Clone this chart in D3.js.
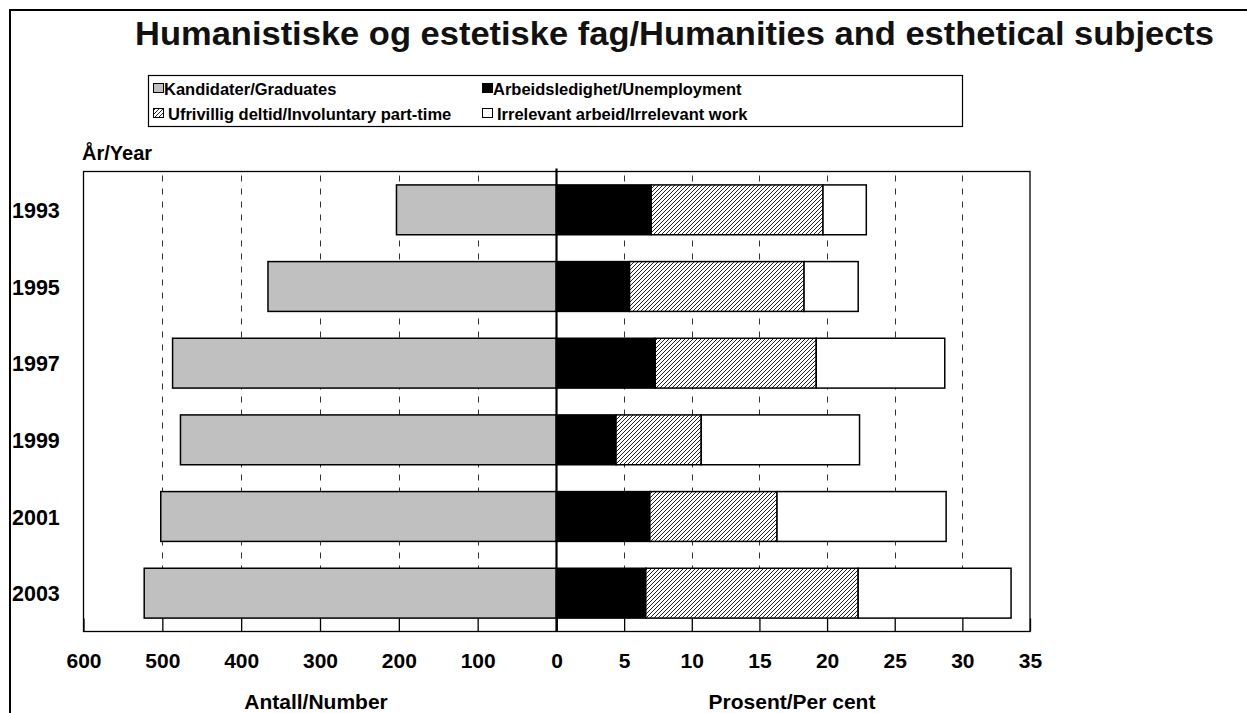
<!DOCTYPE html>
<html>
<head>
<meta charset="utf-8">
<script src="https://cdn.jsdelivr.net/npm/d3@7"></script>
<style>
html,body{margin:0;padding:0;background:#fff;}
svg{display:block;font-family:Arial,"Liberation Sans",sans-serif;}
</style>
</head>
<body>
<svg id="chart" width="1247" height="713"></svg>
<script>
const years = ['1993', '1995', '1997', '1999', '2001', '2003'];
const graduates = [203, 366, 487, 477, 502, 523];
const unemployment = [7.0, 5.4, 7.3, 4.4, 6.9, 6.6];
const partTime = [12.7, 12.9, 11.9, 6.3, 9.4, 15.7];
const irrelevant = [3.2, 4.0, 9.5, 11.7, 12.5, 11.3];
const leftTicks = [600, 500, 400, 300, 200, 100, 0];
const rightTicks = [0, 5, 10, 15, 20, 25, 30, 35];
const legendLabels = ['Kandidater/Graduates', 'Arbeidsledighet/Unemployment',
  'Ufrivillig deltid/Involuntary part-time', 'Irrelevant arbeid/Irrelevant work'];
const titleText = 'Humanistiske og estetiske fag/Humanities and esthetical subjects';

const svg = d3.select('#chart');
const pTop = 171.5, pBottom = 631.5, pLeft = 83.5, pMid = 556.5, pRight = 1030;

// hatch pattern
const defs = svg.append('defs');
const pat = defs.append('pattern').attr('id', 'hatch').attr('patternUnits', 'userSpaceOnUse')
  .attr('width', 4).attr('height', 4);
pat.append('rect').attr('width', 4).attr('height', 4).attr('fill', '#fff');
pat.append('path').attr('d', 'M-1,1 l2,-2 M0,4 l4,-4 M3,5 l2,-2')
  .attr('stroke', '#222').attr('stroke-width', 1);

// outer frame
svg.append('path').attr('d', 'M10,713 L10,10 L1247,10').attr('fill', 'none')
  .attr('stroke', '#000').attr('stroke-width', 2);

// title
svg.append('text').attr('x', 135).attr('y', 45)
  .attr('font-size', 33).attr('font-weight', 'bold').attr('fill', '#111')
  .attr('textLength', 1079).attr('lengthAdjust', 'spacingAndGlyphs').text(titleText);

// legend
const lg = svg.append('g');
lg.append('rect').attr('x', 148.5).attr('y', 75.5).attr('width', 814).attr('height', 51)
  .attr('fill', '#fff').attr('stroke', '#000').attr('stroke-width', 1.2);
const legendItems = [
  {x: 153, y: 83, fill: '#c0c0c0', tx: 164, ty: 95, label: legendLabels[0]},
  {x: 482, y: 83, fill: '#000', tx: 493, ty: 95, label: legendLabels[1]},
  {x: 153, y: 108, fill: 'url(#hatch)', tx: 168, ty: 120, label: legendLabels[2]},
  {x: 482, y: 108, fill: '#fff', tx: 497, ty: 120, label: legendLabels[3]}
];
legendItems.forEach(d => {
  lg.append('rect').attr('x', d.x + 0.5).attr('y', d.y + 0.5).attr('width', 10).attr('height', 9)
    .attr('fill', d.fill).attr('stroke', '#000').attr('stroke-width', 1);
  lg.append('text').attr('x', d.tx).attr('y', d.ty).attr('font-size', 16.5)
    .attr('font-weight', 'bold').attr('fill', '#000').text(d.label);
});

// scales
const xL = d3.scaleLinear().domain([600, 0]).range([pLeft, pMid]);
const xR = d3.scaleLinear().domain([0, 35]).range([pMid, pRight]);
const y = d3.scaleBand().domain(years).range([pTop, pBottom]).paddingInner(0.35).paddingOuter(0.175);

// plot background & grid
svg.append('rect').attr('x', pLeft).attr('y', pTop).attr('width', pRight - pLeft).attr('height', pBottom - pTop)
  .attr('fill', '#fff');
const grid = svg.append('g').attr('stroke', '#333').attr('stroke-width', 1).attr('stroke-dasharray', '6,7');
leftTicks.filter(v => v !== 600 && v !== 0).forEach(v => {
  grid.append('line').attr('x1', Math.round(xL(v)) + 0.5).attr('x2', Math.round(xL(v)) + 0.5)
    .attr('y1', pTop + 4).attr('y2', pBottom - 13);
});
rightTicks.filter(v => v !== 0 && v !== 35).forEach(v => {
  grid.append('line').attr('x1', Math.round(xR(v)) + 0.5).attr('x2', Math.round(xR(v)) + 0.5)
    .attr('y1', pTop + 4).attr('y2', pBottom - 13);
});

// bars
const bars = svg.append('g').attr('stroke', '#000').attr('stroke-width', 1.5);
years.forEach((yr, i) => {
  bars.append('rect').attr('x', xL(graduates[i])).attr('y', y(yr))
    .attr('width', pMid - xL(graduates[i])).attr('height', y.bandwidth()).attr('fill', '#c0c0c0');
  let c0 = 0;
  [[unemployment[i], '#000'], [partTime[i], 'url(#hatch)'], [irrelevant[i], '#fff']].forEach(([v, f]) => {
    bars.append('rect').attr('x', xR(c0)).attr('y', y(yr))
      .attr('width', xR(c0 + v) - xR(c0)).attr('height', y.bandwidth()).attr('fill', f);
    c0 += v;
  });
});

// plot border
svg.append('rect').attr('x', pLeft).attr('y', pTop).attr('width', pRight - pLeft).attr('height', pBottom - pTop)
  .attr('fill', 'none').attr('stroke', '#000').attr('stroke-width', 1.3);

// axes (ticks pointing up, labels below)
const axL = d3.axisBottom(xL).tickValues(leftTicks).tickSize(-13).tickPadding(21)
  .tickFormat(d3.format('d'));
const axR = d3.axisBottom(xR).tickValues(rightTicks).tickSize(-13).tickPadding(21)
  .tickFormat(d => d === 0 ? '' : d3.format('d')(d));
[axL, axR].forEach(ax => {
  const g = svg.append('g').attr('transform', `translate(0,${pBottom})`).call(ax);
  g.select('.domain').remove();
  g.selectAll('.tick line').attr('stroke', '#000').attr('stroke-width', 1.3);
  g.selectAll('.tick text').attr('font-size', 21).attr('font-weight', 'bold')
    .attr('font-family', 'Arial, "Liberation Sans", sans-serif').attr('fill', '#000')
    .attr('dy', null).attr('y', 36.5);
});

// center line
svg.append('line').attr('x1', pMid).attr('x2', pMid).attr('y1', pTop - 3).attr('y2', pBottom)
  .attr('stroke', '#000').attr('stroke-width', 2.2);

// y labels
svg.append('g').selectAll('text').data(years).join('text')
  .attr('x', 12).attr('y', d => y(d) + y.bandwidth() / 2 + 8)
  .attr('font-size', 21.5).attr('font-weight', 'bold').attr('fill', '#000').text(d => d);

svg.append('text').attr('x', 82).attr('y', 160).attr('font-size', 20).attr('font-weight', 'bold')
  .attr('fill', '#000').text('År/Year');

svg.append('text').attr('x', 316).attr('y', 709).attr('text-anchor', 'middle').attr('font-size', 21)
  .attr('font-weight', 'bold').attr('fill', '#000').text('Antall/Number');
svg.append('text').attr('x', 792).attr('y', 709).attr('text-anchor', 'middle').attr('font-size', 21)
  .attr('font-weight', 'bold').attr('fill', '#000').text('Prosent/Per cent');
</script>
</body>
</html>
